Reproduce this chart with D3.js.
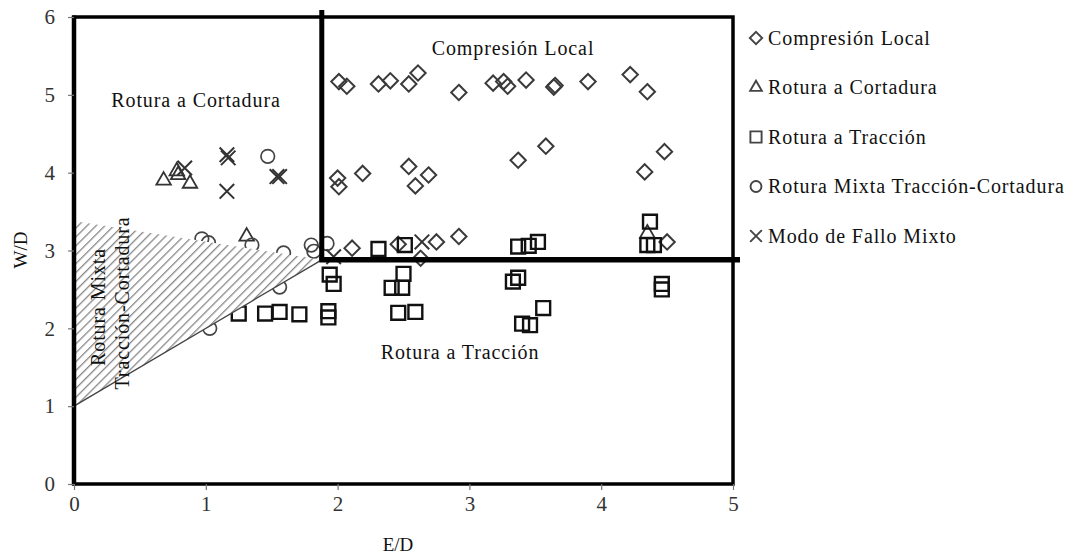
<!DOCTYPE html>
<html>
<head>
<meta charset="utf-8">
<script src="https://cdn.jsdelivr.net/npm/d3@7"></script>
<style>
  body { margin: 0; background: #fff; }
  text { font-family: "Liberation Serif", "Times New Roman", serif; fill: #111; }
</style>
</head>
<body>
<svg id="chart" width="1073" height="555"></svg>
<script>
// datos (E/D, W/D)
const compresionLocal = [
  [2.01, 5.17], [2.07, 5.11], [2.31, 5.14], [2.40, 5.18], [2.54, 5.14], [2.61, 5.28],
  [2.92, 5.03], [3.18, 5.15], [3.26, 5.17], [3.29, 5.11], [3.43, 5.19], [3.64, 5.10],
  [3.65, 5.12], [3.90, 5.17], [4.22, 5.26], [4.35, 5.04],
  [2.00, 3.93], [2.01, 3.82], [2.19, 3.99], [2.54, 4.08], [2.59, 3.83], [2.69, 3.97],
  [3.37, 4.16], [3.58, 4.34], [4.33, 4.01], [4.48, 4.27],
  [2.11, 3.03], [2.46, 3.08], [2.63, 2.90], [2.75, 3.11], [2.92, 3.18], [4.50, 3.11]
];
const roturaCortadura = [
  [0.68, 3.90], [0.78, 4.02], [0.79, 3.97], [0.88, 3.86], [1.31, 3.18], [4.35, 3.22]
];
const roturaTraccion = [
  [2.31, 3.02], [2.51, 3.07], [3.37, 3.05], [3.45, 3.06], [3.52, 3.11], [4.37, 3.37],
  [4.35, 3.07], [4.40, 3.07],
  [1.94, 2.69], [1.97, 2.57], [2.50, 2.70], [2.41, 2.52], [2.49, 2.52],
  [3.37, 2.65], [3.33, 2.60], [4.46, 2.57], [4.46, 2.50],
  [1.25, 2.19], [1.45, 2.19], [1.56, 2.21], [1.71, 2.18], [1.93, 2.22], [1.93, 2.14],
  [2.46, 2.20], [2.59, 2.21], [3.40, 2.06], [3.46, 2.04], [3.56, 2.26]
];
const roturaMixta = [
  [1.47, 4.21], [0.97, 3.15], [1.02, 3.10], [1.35, 3.07], [1.59, 2.97],
  [1.80, 3.07], [1.82, 2.99], [1.92, 3.09], [1.56, 2.53], [1.03, 2.00]
];
const falloMixto = [
  [0.84, 4.06], [1.16, 4.23], [1.17, 4.19], [1.16, 3.76], [1.54, 3.95], [1.56, 3.95],
  [2.64, 3.11], [1.97, 2.92]
];
const xTicks = [0, 1, 2, 3, 4, 5];
const yTicks = [0, 1, 2, 3, 4, 5, 6];
const legendLabels = [
  'Compresión Local', 'Rotura a Cortadura', 'Rotura a Tracción',
  'Rotura Mixta Tracción-Cortadura', 'Modo de Fallo Mixto'
];
// limites de las zonas
const corner = [1.88, 2.88];
const hatchArea = [[0, 3.38], [1.88, 2.88], [0, 1]];

const svg = d3.select('#chart');
const x = d3.scaleLinear().domain([0, 5]).range([74, 733]);
const y = d3.scaleLinear().domain([0, 6]).range([484, 17]);

const timesType = d3.symbolTimes || {
  draw(ctx, size) {
    const r = Math.sqrt(size) * 0.6;
    ctx.moveTo(-r, -r); ctx.lineTo(r, r);
    ctx.moveTo(-r, r); ctx.lineTo(r, -r);
  }
};

const series = [
  { data: compresionLocal, type: d3.symbolDiamond2, size: 150, color: '#3a3a3a', w: 2 },
  { data: roturaCortadura, type: d3.symbolTriangle2, size: 150, color: '#333', w: 1.8 },
  { data: roturaTraccion, type: d3.symbolSquare2, size: 245, color: '#111', w: 2.4 },
  { data: roturaMixta, type: d3.symbolCircle, size: 145, color: '#444', w: 1.7 },
  { data: falloMixto, type: timesType, size: 140, color: '#333', w: 2 }
];

// puntos
const marks = svg.append('g').attr('class', 'marks');
series.forEach(s => {
  marks.append('g')
    .selectAll('path')
    .data(s.data)
    .enter()
    .append('path')
    .attr('transform', d => `translate(${x(d[0])},${y(d[1])})`)
    .attr('d', d3.symbol().type(s.type).size(s.size))
    .style('fill', 'none')
    .style('stroke', s.color)
    .style('stroke-width', s.w);
});

// zona rayada
const defs = svg.append('defs');
const pat = defs.append('pattern')
  .attr('id', 'hatch')
  .attr('patternUnits', 'userSpaceOnUse')
  .attr('width', 6.3)
  .attr('height', 6.3)
  .attr('patternTransform', 'rotate(45)');
pat.append('rect').attr('width', 6.3).attr('height', 6.3).attr('fill', '#fff');
pat.append('line')
  .attr('x1', 0).attr('y1', 0).attr('x2', 0).attr('y2', 6.3)
  .attr('stroke', '#888').attr('stroke-width', 2.6);

const poly = hatchArea.map(d => [x(d[0]), y(d[1])]);
svg.append('path')
  .attr('d', 'M' + poly.join('L') + 'Z')
  .attr('fill', 'url(#hatch)');
svg.append('line')
  .attr('x1', poly[2][0]).attr('y1', poly[2][1])
  .attr('x2', poly[1][0]).attr('y2', poly[1][1])
  .attr('stroke', '#444').attr('stroke-width', 1.3);

// marco
svg.append('rect')
  .attr('x', x(0)).attr('y', y(6))
  .attr('width', x(5) - x(0)).attr('height', y(0) - y(6))
  .attr('fill', 'none').attr('stroke', '#000').attr('stroke-width', 3.5);
svg.append('line')
  .attr('x1', x(0)).attr('y1', y(6) - 1.5)
  .attr('x2', x(0)).attr('y2', y(0) + 1.5)
  .attr('stroke', '#000').attr('stroke-width', 4.5);

// lineas gruesas de separacion
svg.append('line')
  .attr('x1', x(corner[0])).attr('y1', y(6) - 7)
  .attr('x2', x(corner[0])).attr('y2', y(corner[1]))
  .attr('stroke', '#000').attr('stroke-width', 5);
svg.append('line')
  .attr('x1', x(corner[0]) - 2.5).attr('y1', y(corner[1]))
  .attr('x2', x(5) + 7).attr('y2', y(corner[1]))
  .attr('stroke', '#000').attr('stroke-width', 5.5);

// ejes
const xAxis = svg.append('g')
  .attr('transform', `translate(0,${y(0)})`)
  .call(d3.axisBottom(x).tickValues(xTicks).tickFormat(d3.format('d')).tickSize(6).tickPadding(6));
const yAxis = svg.append('g')
  .attr('transform', `translate(${x(0)},0)`)
  .call(d3.axisLeft(y).tickValues(yTicks).tickFormat(d3.format('d')).tickSize(6).tickPadding(13));
[xAxis, yAxis].forEach(a => {
  a.select('.domain').remove();
  a.selectAll('line').attr('stroke', '#777').attr('stroke-width', 1.2);
  a.selectAll('text')
    .style('font-family', '"Liberation Serif", serif')
    .style('font-size', '21px')
    .style('fill', '#333');
});

svg.append('text')
  .attr('x', 398).attr('y', 551)
  .attr('text-anchor', 'middle')
  .style('font-size', '19px')
  .text('E/D');
svg.append('text')
  .attr('transform', 'translate(27,250) rotate(-90)')
  .attr('text-anchor', 'middle')
  .style('font-size', '19px')
  .text('W/D');

// etiquetas de zonas
const zoneText = (tx, ty, label, rot) => {
  svg.append('text')
    .attr('transform', `translate(${tx},${ty})` + (rot ? ' rotate(-90)' : ''))
    .attr('text-anchor', 'middle')
    .style('font-size', '20px')
    .style('letter-spacing', '0.9px')
    .text(label);
};
zoneText(513, 55, 'Compresión Local');
zoneText(196, 107, 'Rotura a Cortadura');
zoneText(460, 359, 'Rotura a Tracción');
zoneText(105, 307, 'Rotura Mixta', true);
zoneText(129, 303, 'Tracción-Cortadura', true);

// leyenda
const legend = svg.append('g').attr('class', 'legend');
series.forEach((s, i) => {
  const ly = 38 + i * 49.5;
  legend.append('path')
    .attr('transform', `translate(756,${ly})`)
    .attr('d', d3.symbol().type(s.type).size(s.size * 0.65))
    .style('fill', 'none')
    .style('stroke', '#444')
    .style('stroke-width', 1.9);
  legend.append('text')
    .attr('x', 768).attr('y', ly + 6.5)
    .style('font-size', '20px')
    .style('letter-spacing', '0.9px')
    .text(legendLabels[i]);
});
</script>
</body>
</html>
